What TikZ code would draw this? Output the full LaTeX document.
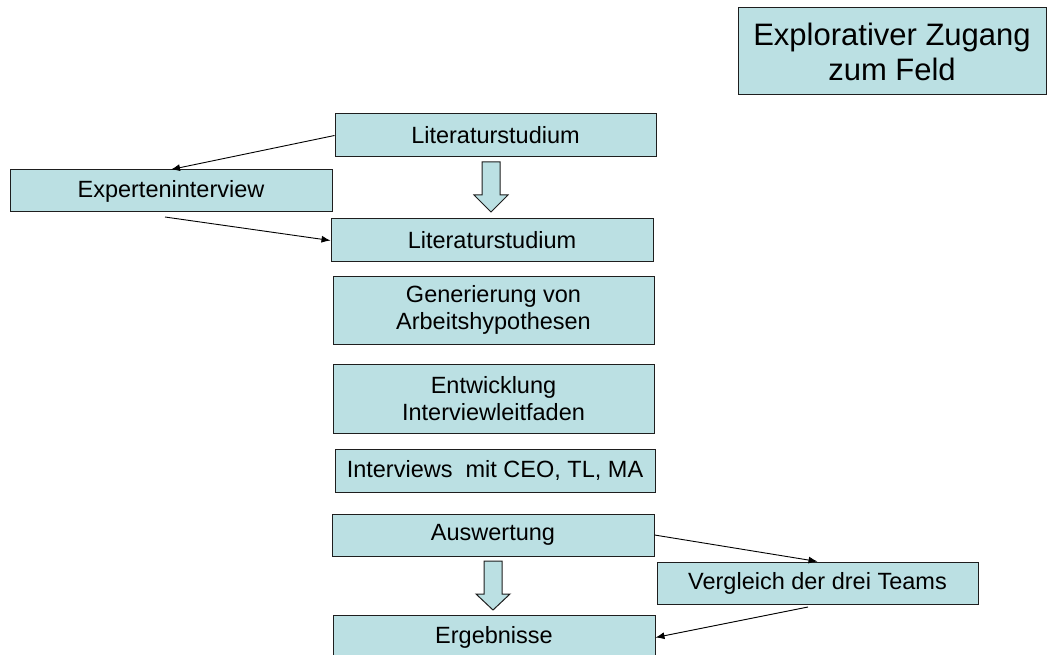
\documentclass[tikz,border=0pt]{standalone}
\usepackage{fontspec}
\setmainfont{Liberation Sans}
\usetikzlibrary{arrows.meta}
\definecolor{boxfill}{RGB}{187,224,227}
\definecolor{boxline}{RGB}{30,30,30}
\tikzset{
  box/.style={draw=boxline, fill=boxfill, line width=1pt, rectangle, inner sep=0pt,
    align=center, font=\fontsize{23.5}{27.5}\selectfont},
  link/.style={draw=black, line width=0.9pt, -{Latex[length=9pt,width=7pt]}},
  blockarrow/.style={draw=boxline, fill=boxfill, line width=1pt, line join=miter}
}
% place a box by its left, top, right and bottom edges
\newcommand{\boxat}[6]{%
  \node[box, minimum width={#4-#2}, minimum height={#5-#3}] (#1) at ({(#2+#4)/2},{(#3+#5)/2}) {#6};}
\begin{document}
\begin{tikzpicture}[x=1pt,y=-1pt]
\useasboundingbox (0,0) rectangle (1047,655);
\boxat{title}{738}{8}{1046}{95}{\fontsize{31}{36}\selectfont Explorativer Zugang\\[5pt]\fontsize{31}{36}\selectfont zum Feld}
\boxat{lit1}{335}{114}{656}{157}{Literaturstudium}
\boxat{exp}{10}{170}{332}{212}{Experteninterview}
\boxat{lit2}{331}{219}{653}{262}{Literaturstudium}
\boxat{gen}{333}{276}{654}{344}{Generierung von\\Arbeitshypothesen}
\boxat{ent}{333}{364}{654}{433}{Entwicklung\\Interviewleitfaden}
\boxat{int}{335}{449}{655}{492}{Interviews\ \ mit CEO, TL, MA}
\boxat{aus}{332}{514}{654}{556}{Auswertung}
\boxat{verg}{657}{562}{978}{604}{Vergleich der drei Teams}
\boxat{erg}{333}{615}{655}{660}{Ergebnisse}

% hollow block arrows between stages
\draw[blockarrow] (482,162) -- (500,162) -- (500,195) -- (508,195) -- (491,212)
  -- (474,195) -- (482,195) -- cycle;
\draw[blockarrow] (484,561) -- (502,561) -- (502,594) -- (510,594) -- (493,610)
  -- (476,594) -- (484,594) -- cycle;

% thin connectors
\coordinate (expout) at (165,217);
\coordinate (vergout) at (808,607);
\draw[link] (lit1.west) -- (exp.north);
\draw[link] (expout) -- (lit2.west);
\draw[link] (aus.east) -- (verg.north);
\draw[link] (vergout) -- (erg.east);
\end{tikzpicture}
\end{document}
